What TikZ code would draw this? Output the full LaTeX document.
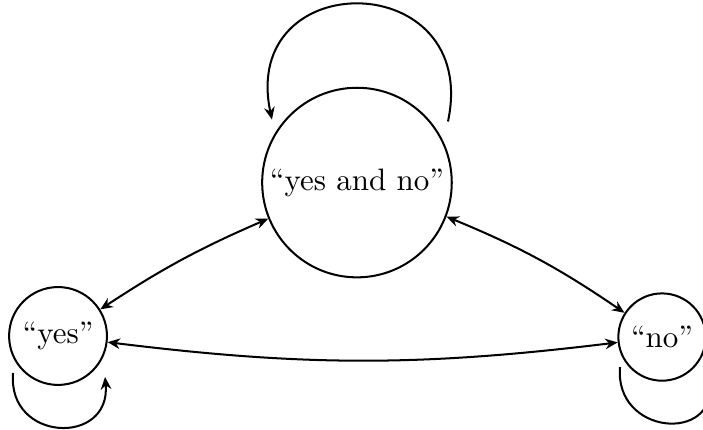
\documentclass[tikz,border=0pt]{standalone}
\usepackage{tikz}
\usetikzlibrary{arrows.meta}
\begin{document}
\begin{tikzpicture}[every node/.style={font=\normalsize},state/.style={draw,circle,line width=0.65pt,inner sep=1pt},link/.style={line width=0.65pt},>={Stealth[length=4pt,width=3.4pt,inset=1.3pt]}]
\useasboundingbox (0,0) rectangle (7.972,-4.865);
\node[state,minimum size=2.15cm] (both) at (4.048,-2.070) {“yes and no”};
\node[state,minimum size=1.11cm] (yes) at (0.658,-3.810) {“yes”};
\node[state,minimum size=0.99cm] (no) at (7.507,-3.822) {“no”};
\draw[link,<->] (both) to[bend right=5] (yes);
\draw[link,<->] (both) to[bend left=6] (no);
\draw[link,<->] (yes) to[bend right=7] (no);
\draw[link,->] ([shift={(1.032,0.692)}]both.center) to[out=78,in=102,looseness=2.3] ([shift={(-0.964,0.714)}]both.center);
\draw[link,->] ([shift={(-0.510,-0.420)}]yes.center) to[out=-95,in=-85,looseness=1.93] ([shift={(0.533,-0.465)}]yes.center);
\draw[link,->] ([shift={(-0.476,-0.340)}]no.center) to[out=-95,in=-85,looseness=1.93] ([shift={(0.540,-0.440)}]no.center);
\end{tikzpicture}
\end{document}
